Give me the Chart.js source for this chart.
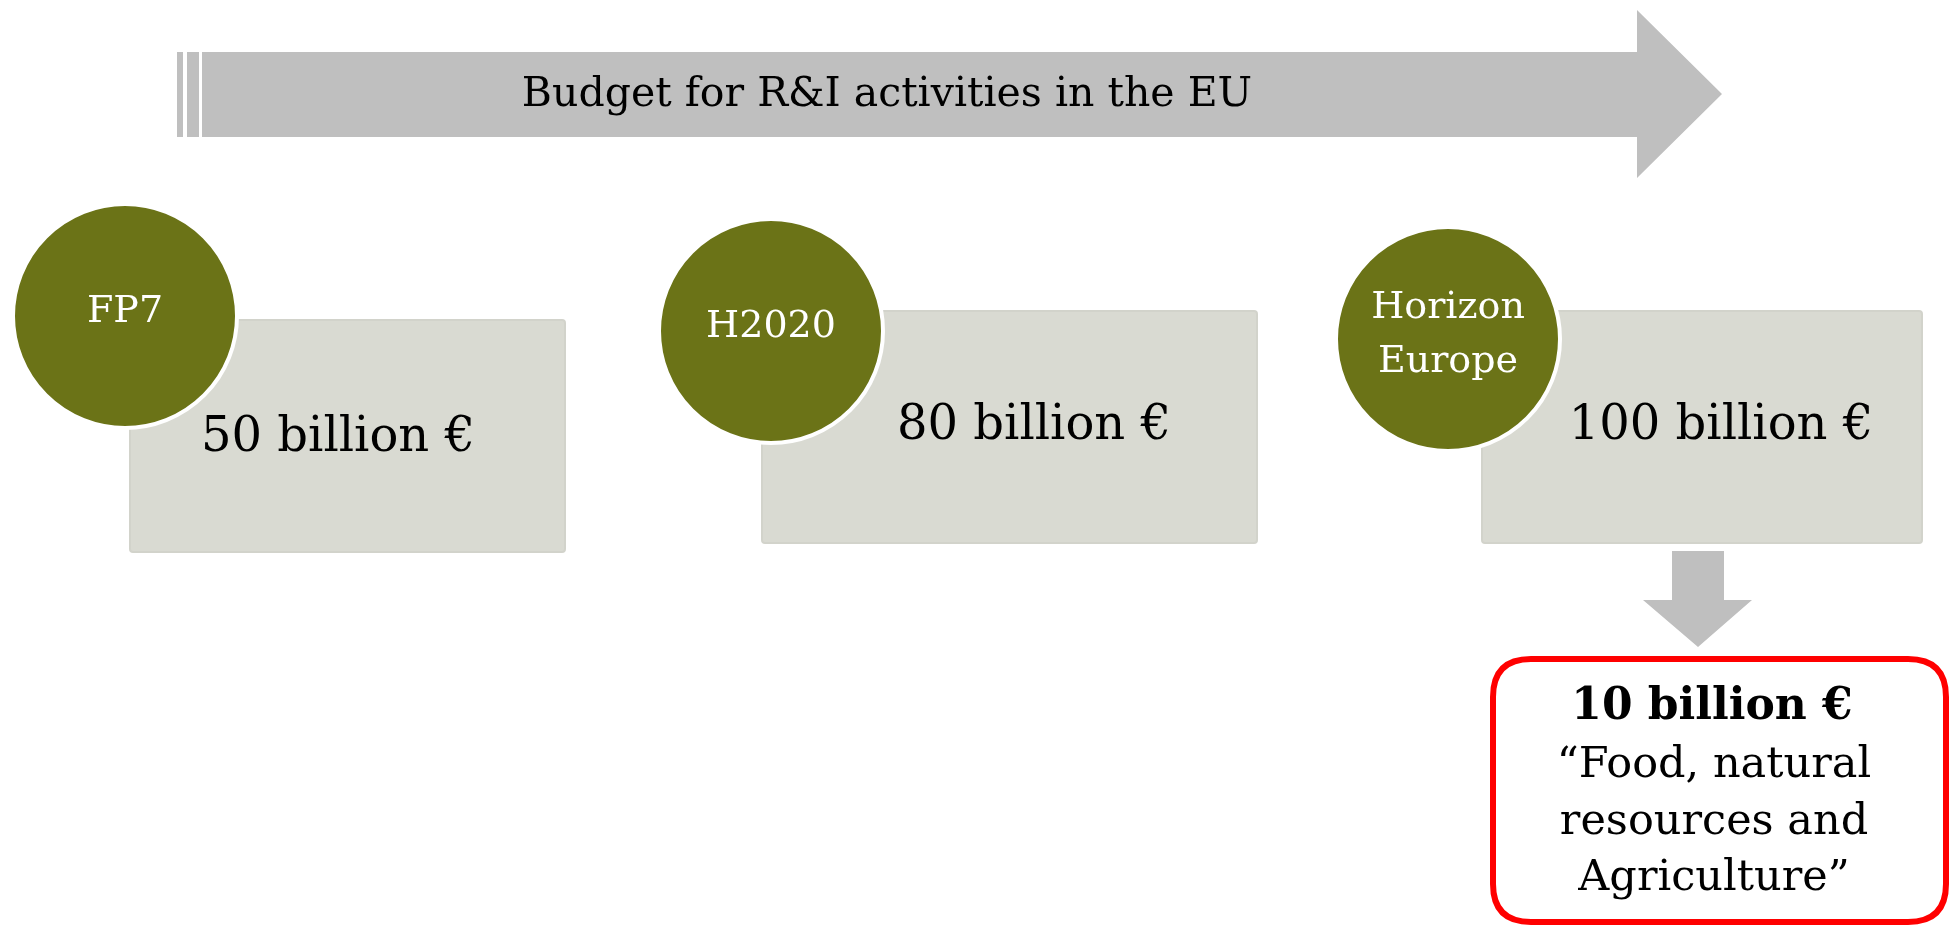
<!DOCTYPE html>
<html>
<head>
<meta charset="utf-8">
<title>Budget for R&amp;I activities in the EU</title>
<script src="https://cdn.jsdelivr.net/npm/chart.js@4.4.1/dist/chart.umd.min.js"></script>
<style>
  html, body { margin: 0; padding: 0; background: #ffffff; }
  #wrap { width: 1959px; height: 929px; }
</style>
</head>
<body>
<div id="wrap"><canvas id="diagram" width="1959" height="929"></canvas></div>
<script>
// datos del esquema
const headline = 'Budget for R&I activities in the EU';
const programmes = ['FP7', 'H2020', 'Horizon Europe'];
const budgets = [50, 80, 100];            // billion €
const focusBudget = 10;                   // billion €, dentro de Horizon Europe
const focusLines = ['\u201CFood, natural', 'resources and', 'Agriculture\u201D'];

// posiciones (espacio 0..1959 x 0..929)
const circleX = [125, 771, 1448];
const circleY = [316, 331, 339];
const boxes = [
  { x0: 130, x1: 565, y0: 320, y1: 552 },
  { x0: 762, x1: 1257, y0: 311, y1: 543 },
  { x0: 1482, x1: 1922, y0: 311, y1: 543 }
];
const valueX = [338, 1034, 1721];
const valueY = [439, 427, 427];

const OLIVE = '#6b7317';
const BOX = '#d9dad2';
const GREY = '#bfbfbf';
const RED = '#ff0000';
const SERIF = '"DejaVu Serif", "Liberation Serif", serif';

function px(chart, x) { return chart.scales.x.getPixelForValue(x); }
function py(chart, y) { return chart.scales.y.getPixelForValue(y); }

function poly(ctx, chart, pts, color) {
  ctx.beginPath();
  pts.forEach((p, i) => {
    const X = px(chart, p[0]), Y = py(chart, p[1]);
    if (i === 0) ctx.moveTo(X, Y); else ctx.lineTo(X, Y);
  });
  ctx.closePath();
  ctx.fillStyle = color;
  ctx.fill();
}

function roundRect(ctx, x, y, w, h, r) {
  ctx.beginPath();
  ctx.moveTo(x + r, y);
  ctx.lineTo(x + w - r, y);
  ctx.quadraticCurveTo(x + w, y, x + w, y + r);
  ctx.lineTo(x + w, y + h - r);
  ctx.quadraticCurveTo(x + w, y + h, x + w - r, y + h);
  ctx.lineTo(x + r, y + h);
  ctx.quadraticCurveTo(x, y + h, x, y + h - r);
  ctx.lineTo(x, y + r);
  ctx.quadraticCurveTo(x, y, x + r, y);
  ctx.closePath();
}

function text(ctx, chart, str, x, y, font, color) {
  ctx.font = font;
  ctx.fillStyle = color;
  ctx.textAlign = 'center';
  ctx.textBaseline = 'middle';
  ctx.fillText(str, px(chart, x), py(chart, y));
}

// fondo: flecha grande, cajas, flecha hacia abajo
const fondoPlugin = {
  id: 'fondo',
  beforeDatasetsDraw(chart) {
    const ctx = chart.ctx;
    ctx.save();
    // flecha horizontal con las dos franjas de la izquierda
    poly(ctx, chart, [[177, 52], [183, 52], [183, 137], [177, 137]], GREY);
    poly(ctx, chart, [[187, 52], [199, 52], [199, 137], [187, 137]], GREY);
    poly(ctx, chart, [[202, 52], [1637, 52], [1637, 10], [1722, 94],
                      [1637, 178], [1637, 137], [202, 137]], GREY);

    // cajas de presupuesto
    boxes.forEach(b => {
      const x = px(chart, b.x0), y = py(chart, b.y0);
      const w = px(chart, b.x1) - x, h = py(chart, b.y1) - y;
      roundRect(ctx, x, y, w, h, 3);
      ctx.fillStyle = BOX;
      ctx.fill();
      ctx.strokeStyle = '#d2d3cb';
      ctx.lineWidth = 2;
      ctx.stroke();
    });

    // flecha hacia abajo
    poly(ctx, chart, [[1672, 551], [1724, 551], [1724, 600], [1752, 600],
                      [1698, 647], [1643, 600], [1672, 600]], GREY);
    ctx.restore();
  },
  afterDatasetsDraw(chart) {
    const ctx = chart.ctx;
    ctx.save();
    text(ctx, chart, headline, 887, 95, '41px ' + SERIF, '#000');

    // nombres de los programas dentro de los circulos
    programmes.forEach((p, i) => {
      const words = p.split(' ');
      const lh = 54;
      const top = circleY[i] - (words.length - 1) * lh / 2 - 4;
      words.forEach((w, j) => {
        text(ctx, chart, w, circleX[i], top + j * lh, '38px ' + SERIF, '#ffffff');
      });
    });

    // importes
    budgets.forEach((v, i) => {
      text(ctx, chart, v + ' billion \u20AC', valueX[i], valueY[i], '48px ' + SERIF, '#000');
    });

    // caja roja
    const x = px(chart, 1493), y = py(chart, 659);
    const w = px(chart, 1946) - x, h = py(chart, 922) - y;
    roundRect(ctx, x, y, w, h, 38);
    ctx.fillStyle = '#ffffff';
    ctx.fill();
    ctx.strokeStyle = RED;
    ctx.lineWidth = 6;
    ctx.stroke();

    text(ctx, chart, focusBudget + ' billion \u20AC', 1712, 708, 'bold 44px ' + SERIF, '#000');
    const lineY = [766, 823, 879];
    focusLines.forEach((l, i) => {
      text(ctx, chart, l, 1714, lineY[i], '43px ' + SERIF, '#000');
    });
    ctx.restore();
  }
};

const ctx = document.getElementById('diagram').getContext('2d');
new Chart(ctx, {
  type: 'bubble',
  data: {
    datasets: [{
      label: 'Programmes',
      data: programmes.map((p, i) => ({ x: circleX[i], y: circleY[i], r: 112 })),
      backgroundColor: OLIVE,
      borderColor: '#ffffff',
      borderWidth: 4,
      hoverRadius: 0,
      clip: false
    }]
  },
  options: {
    responsive: false,
    animation: false,
    events: [],
    layout: { padding: 0, autoPadding: false },
    plugins: {
      legend: { display: false },
      tooltip: { enabled: false },
      title: { display: false }
    },
    scales: {
      x: { type: 'linear', min: 0, max: 1959, display: false },
      y: { type: 'linear', min: 0, max: 929, reverse: true, display: false }
    }
  },
  plugins: [fondoPlugin]
});
</script>
</body>
</html>
